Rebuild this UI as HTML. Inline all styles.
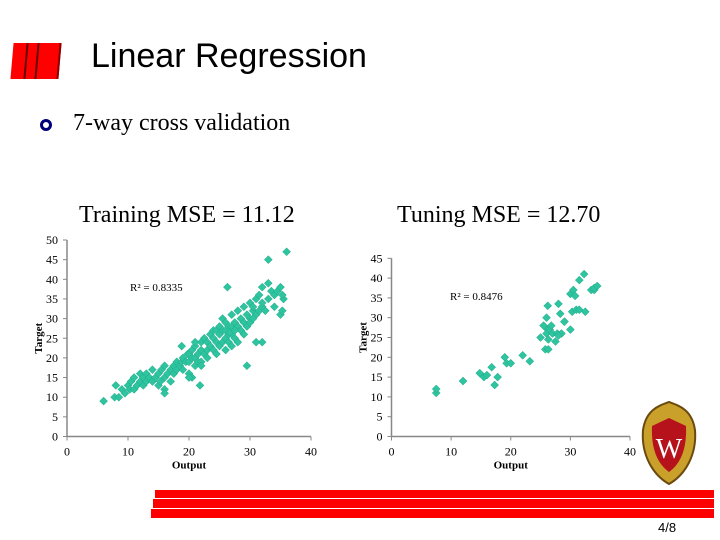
<!DOCTYPE html>
<html><head><meta charset="utf-8"><style>
body{margin:0;width:720px;height:540px;overflow:hidden;background:#fff;position:relative;font-family:"Liberation Serif",serif}
.abs{position:absolute}
</style></head><body>
<div class="abs" style="left:12px;top:43px;width:46px;height:36px;background:#f00;transform:skewX(-5deg);border-right:2px solid #800"></div>
<div class="abs" style="left:25px;top:43px;width:2px;height:36px;background:#600;transform:skewX(-5deg)"></div>
<div class="abs" style="left:36px;top:43px;width:2px;height:36px;background:#600;transform:skewX(-5deg)"></div>
<div class="abs" style="left:91px;top:37px;font:34px 'Liberation Sans',sans-serif;color:#000">Linear Regression</div>
<div class="abs" style="left:40px;top:119px;width:6px;height:6px;border:3px solid #00007a;border-radius:50%"></div>
<div class="abs" style="left:73px;top:110px;font-size:24px">7-way cross validation</div>
<div class="abs" style="left:79px;top:202px;font-size:24px">Training MSE = 11.12</div>
<div class="abs" style="left:397px;top:202px;font-size:24px">Tuning MSE = 12.70</div>
<svg class="abs" style="left:0;top:0" width="720" height="540" id="svg"></svg>
<svg class="abs" style="left:640px;top:400px" width="58" height="86">
<path d="M29 2 C40 6 52 10 55 30 C57 55 45 75 29 84 C13 75 1 55 3 30 C6 10 18 6 29 2Z" fill="#c9a02a" stroke="#6b4a10" stroke-width="2"/>
<path d="M29 18 L46 26 C47 50 40 64 29 72 C18 64 11 50 12 26Z" fill="#b5121b"/>
<text x="29" y="58" text-anchor="middle" font-family="Liberation Serif" font-size="28" fill="#fff">W</text>
</svg>
<div class="abs" style="left:155px;top:490px;width:559px;height:8px;background:#f00"></div>
<div class="abs" style="left:153px;top:499px;width:561px;height:9px;background:#f00"></div>
<div class="abs" style="left:151px;top:509px;width:563px;height:9px;background:#f00"></div>
<div class="abs" style="left:658px;top:520px;font:13px 'Liberation Sans',sans-serif">4/8</div>
<script>
const trainX=[6,7.8,8,8.5,9,9.5,10,10.3,10.5,11,11,11.5,12,12,12.5,12.5,13,13,13.5,14,14,14.5,15,15,15.3,15.5,16,16,16,16.5,17,17,17.5,17.5,18,18,18.5,18.8,19,19,19.5,19.8,20,20,20,20.5,20.5,21,21,21,21.5,21.5,22,22,22,22.5,22.5,23,23,23,23.5,23.5,24,24,24,24.5,24.5,24.5,25,25,25,25.5,25.5,25.5,26,26,26,26,26.5,26.5,26.5,27,27,27,27,27.5,27.5,27.5,28,28,28,28.5,28.5,29,29,29,29.5,29.5,30,30,30,30.5,30.5,31,31,31.5,31.5,32,32,32,32.5,33,33,33.5,34,34,34.5,35,35,35.3,35.5,36,33,35.3,26.3,26.7,21,21.8,20.5,29.5,27.5,32,30.5,31,16,20,18.8,22];
const trainY=[9,10,13,10,12,11,13,12,14,12,15,13,14,16,13,15,14,16,15,14,17,15,16,13,14,17,15,18,12,16,17,14,16,18,17,19,18,19,20,17,19,21,19,21,16,20,22,20,18,23,21,19,22,24,19,21,25,22,20,24,23,26,22,25,27,21,24,27,23,26,28,24,27,30,22,25,27,29,24,26,28,23,26,28,31,25,27,29,24,28,32,27,30,26,29,33,28,31,30,34,29,32,33,31,35,32,36,33,38,34,32,39,35,37,36,33,37,38,31,32,35,47,45,36,38,26.5,24,13,15,18,27,24,30,24,11,15,23,18];
const tuneX=[7.5,7.5,12,14.8,15.5,16,16.8,17.3,17.8,19,19.3,20,22,23.2,25,25.8,25.5,26.2,26,26.3,26.5,26.8,26.3,27,26.2,27.5,27.8,28,28.3,28.5,29,29,30,30,30.3,30.5,30.8,31,31.5,31.5,32.3,32.5,33.5,34,34,34.5,26,28];
const tuneY=[11,12,14,16,15,15.5,17.5,13,15,20,18.5,18.5,20.5,19,25,22,28,27,26,24.5,27,28,22,26,33,24,26,33.5,31,26,29,29,36,27,31.5,37,35.5,32,39.5,32,41,31.5,37,37,37.5,38,30,25.5];
const svg=document.getElementById('svg');const NS='http://www.w3.org/2000/svg';
function mk(t,a,p){const e=document.createElementNS(NS,t);for(const k in a)e.setAttribute(k,a[k]);(p||svg).appendChild(e);return e;}
function chart(name,x0,x1,y0,yTop,ymax,xs,ys,r2,r2x,r2y){
 const g=mk('g',{});
 
 
 const sx=v=>x0+(x1-x0)*v/40, sy=v=>y0-(y0-yTop)*v/ymax;
 const ax=mk('line',{x1:x0,y1:y0,x2:x1,y2:y0,stroke:'#888','stroke-width':1.5},g);
 
 
 const ay=mk('line',{x1:x0,y1:yTop,x2:x0,y2:y0,stroke:'#888','stroke-width':1.5},g);
 
 
 for(let v=0;v<=ymax;v+=5){const t=mk('text',{x:x0-9,y:sy(v)+4,'text-anchor':'end','font-size':12,'font-family':'Liberation Serif'},g);t.textContent=v;
  
  
  mk('line',{x1:x0-4,y1:sy(v),x2:x0,y2:sy(v),stroke:'#888'},g);}
 for(let v=0;v<=40;v+=10){const t=mk('text',{x:sx(v),y:y0+19,'text-anchor':'middle','font-size':12,'font-family':'Liberation Serif'},g);t.textContent=v;
  
  
  mk('line',{x1:sx(v),y1:y0,x2:sx(v),y2:y0+4,stroke:'#888'},g);}
 const xt=mk('text',{x:sx(20),y:y0+32,'text-anchor':'middle','font-size':11,'font-weight':'bold','font-family':'Liberation Serif'},g);xt.textContent='Output';
 
 
 const yt=mk('text',{x:0,y:0,'text-anchor':'middle','font-size':11,'font-weight':'bold','font-family':'Liberation Serif',transform:`translate(${x0-25},${sy(25)}) rotate(-90)`},g);yt.textContent='Target';
 
 
 const rt=mk('text',{x:r2x,y:r2y,'font-size':11,'font-family':'Liberation Serif'},g);rt.textContent=r2;
 
 
 xs.forEach((x,i)=>{const cx=sx(x),cy=sy(ys[i]);
  const p=mk('path',{d:`M${cx} ${cy-4}L${cx+4} ${cy}L${cx} ${cy+4}L${cx-4} ${cy}Z`,fill:'#2ec4a0',stroke:'#1fa884','stroke-width':0.5},g);
  
  });
}
chart('training-scatter',67,311,436.5,240,50,trainX,trainY,'R² = 0.8335',130,291);
chart('tuning-scatter',391.5,630,436.5,258.3,45,tuneX,tuneY,'R² = 0.8476',450,300);
</script>
</body></html>
